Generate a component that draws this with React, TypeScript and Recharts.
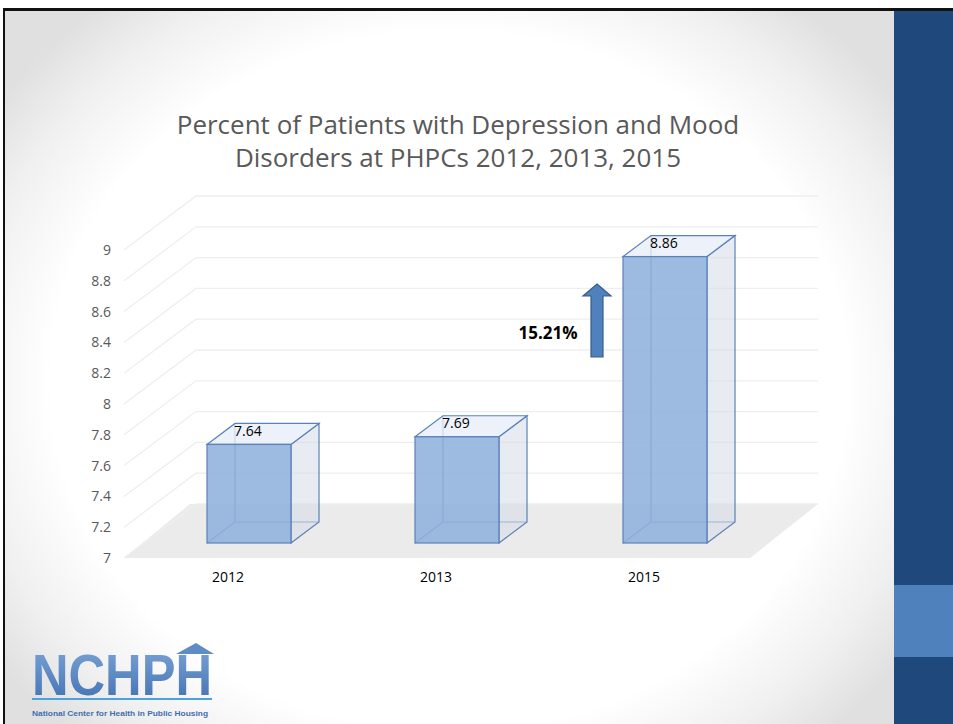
import React from 'react';

import { Bar, BarChart, CartesianGrid, LabelList, XAxis, YAxis } from 'recharts';

const years = ['2012', '2013', '2015'];
const percents = [7.64, 7.69, 8.86];
const yTicks = [7, 7.2, 7.4, 7.6, 7.8, 8, 8.2, 8.4, 8.6, 8.8, 9];

const data = years.map((year, i) => ({ year, value: percents[i] }));

// fake 3d: walls go back by WALL_*, bars sit part way in and have their own depth
const WALL_DX = 70;
const WALL_DY = -54;
const BAR_SHIFT_X = 21;
const BAR_SHIFT_Y = -15;
const BAR_DX = 28;
const BAR_DY = -21;

const FONT = '"Open Sans", "Liberation Sans", sans-serif';

const renderGridLine = (props: any) => {
  const { x1, x2, y1, index, y, height } = props;
  const bottom = y + height;
  return (
    <g key={`grid-${index}`}>
      {index === 0 && (
        <polygon
          points={`${x1},${bottom} ${x2 + 2},${bottom} ${x2 + WALL_DX},${bottom + WALL_DY} ${x1 + WALL_DX - 4},${bottom + WALL_DY}`}
          fill="#ebebeb"
        />
      )}
      <path
        d={`M${x1},${y1} L${x1 + WALL_DX + 2},${y1 + WALL_DY} L${x2 + WALL_DX},${y1 + WALL_DY}`}
        fill="none"
        stroke="#eeeeee"
        strokeWidth={1.3}
      />
    </g>
  );
};

const Box3D = (props: any) => {
  const { x, y, width, height } = props;
  if (height == null || height <= 0) return null;
  const fx = x + BAR_SHIFT_X;
  const fy = y + BAR_SHIFT_Y;
  const w = width;
  const h = height;
  const bx = fx + BAR_DX;
  const by = fy + BAR_DY;
  const edge = '#5b82b8';
  return (
    <g>
      {/* hidden back edges */}
      <path
        d={`M${bx},${by} L${bx},${by + h} L${bx + w},${by + h} M${fx},${fy + h} L${bx},${by + h}`}
        fill="none"
        stroke={edge}
        strokeWidth={1.2}
      />
      <polygon
        points={`${fx + w},${fy} ${bx + w},${by} ${bx + w},${by + h} ${fx + w},${fy + h}`}
        fill="rgba(214,221,231,0.55)"
        stroke={edge}
        strokeWidth={1.2}
      />
      <polygon
        points={`${fx},${fy} ${bx},${by} ${bx + w},${by} ${fx + w},${fy}`}
        fill="rgba(232,238,247,0.8)"
        stroke={edge}
        strokeWidth={1.2}
      />
      <rect
        x={fx}
        y={fy}
        width={w}
        height={h}
        fill="#8fb0dc"
        fillOpacity={0.88}
        stroke={edge}
        strokeWidth={1.2}
      />
    </g>
  );
};

const renderValueLabel = (props: any) => {
  const vb = props.viewBox || props;
  const x = props.x ?? vb.x;
  const y = props.y ?? vb.y;
  return (
    <text
      x={x + BAR_SHIFT_X + BAR_DX - 1}
      y={y + BAR_SHIFT_Y + BAR_DY + 7}
      dominantBaseline="central"
      textAnchor="start"
      fontSize={14}
      fontFamily={FONT}
      fill="#000"
    >
      {props.value}
    </text>
  );
};

function Slide() {
  return (
    <div
      style={{
        position: 'fixed',
        left: 0,
        top: 0,
        width: 953,
        height: 724,
        background: '#fff',
        overflow: 'hidden',
        fontFamily: FONT,
      }}
    >
      {/* slide body with soft grey corners */}
      <div
        style={{
          position: 'absolute',
          left: 4,
          top: 10,
          width: 890,
          height: 714,
          background:
            'radial-gradient(ellipse 62% 68% at 50% 52%, #ffffff 72%, #f0f0f0 88%, #e0e0e0 100%)',
        }}
      />
      <div style={{ position: 'absolute', left: 5, top: 8, width: 948, height: 3, background: '#111' }} />
      <div style={{ position: 'absolute', left: 3, top: 8, width: 2, height: 716, background: '#111' }} />
      <div style={{ position: 'absolute', left: 894, top: 11, width: 59, height: 713, background: '#1f497d' }} />
      <div style={{ position: 'absolute', left: 894, top: 585, width: 59, height: 72, background: '#4f81bd' }} />

      <div
        style={{
          position: 'absolute',
          left: 58,
          top: 108,
          width: 800,
          textAlign: 'center',
          fontSize: 26,
          lineHeight: '33px',
          color: '#595959',
        }}
      >
        Percent of Patients with Depression and Mood
        <br />
        Disorders at PHPCs 2012, 2013, 2015
      </div>

      <div style={{ position: 'absolute', left: 0, top: 0 }}>
        <BarChart
          width={953}
          height={724}
          data={data}
          margin={{ top: 250, right: 205, bottom: 136, left: 84 }}
          barSize={84}
        >
          <CartesianGrid vertical={false} horizontal={renderGridLine} />
          <XAxis
            dataKey="year"
            height={30}
            axisLine={false}
            tickLine={false}
            tickSize={0}
            tickMargin={14}
            tick={{ fontSize: 14, fill: '#000', fontFamily: FONT }}
          />
          <YAxis
            width={40}
            domain={[7, 9]}
            ticks={yTicks}
            axisLine={false}
            tickLine={false}
            tickSize={0}
            tickMargin={13}
            tick={{ fontSize: 14, fill: '#595959', fontFamily: FONT }}
          />
          <Bar dataKey="value" shape={<Box3D />} isAnimationActive={false}>
            <LabelList dataKey="value" content={renderValueLabel} />
          </Bar>
        </BarChart>
      </div>

      {/* growth annotation */}
      <svg
        width={953}
        height={724}
        style={{ position: 'absolute', left: 0, top: 0, pointerEvents: 'none' }}
      >
        <polygon
          points="597,284 611,296 603,296 603,357 591,357 591,296 583,296"
          fill="#4f81bd"
          stroke="#385d8a"
          strokeWidth={1.2}
        />
        <text
          x={548}
          y={332}
          textAnchor="middle"
          dominantBaseline="central"
          fontSize={17}
          fontWeight="bold"
          fontFamily={FONT}
          fill="#000"
        >
          15.21%
        </text>

        {/* NCHPH logo */}
        <defs>
          <linearGradient id="logoFill" x1="0" y1="0" x2="0" y2="1">
            <stop offset="0" stopColor="#7ea6d8" />
            <stop offset="1" stopColor="#3f6fb0" />
          </linearGradient>
        </defs>
        <polygon points="176,654 196,643 214,654" fill="#5f8cc6" />
        <text
          x={32}
          y={695}
          fontSize={58}
          fontWeight={900}
          fontFamily='"Liberation Sans", Arial, sans-serif'
          fill="url(#logoFill)"
          textLength={180}
          lengthAdjust="spacingAndGlyphs"
        >
          NCHPH
        </text>
        <rect x={32} y={698} width={180} height={2} fill="#4aa3dc" />
        <text
          x={32}
          y={716}
          fontSize={8}
          fontWeight="bold"
          fontFamily='"Liberation Sans", Arial, sans-serif'
          fill="#3f6fb0"
          textLength={176}
          lengthAdjust="spacingAndGlyphs"
        >
          National Center for Health in Public Housing
        </text>
      </svg>
    </div>
  );
}

export default function App() {
  return <Slide />;
}
